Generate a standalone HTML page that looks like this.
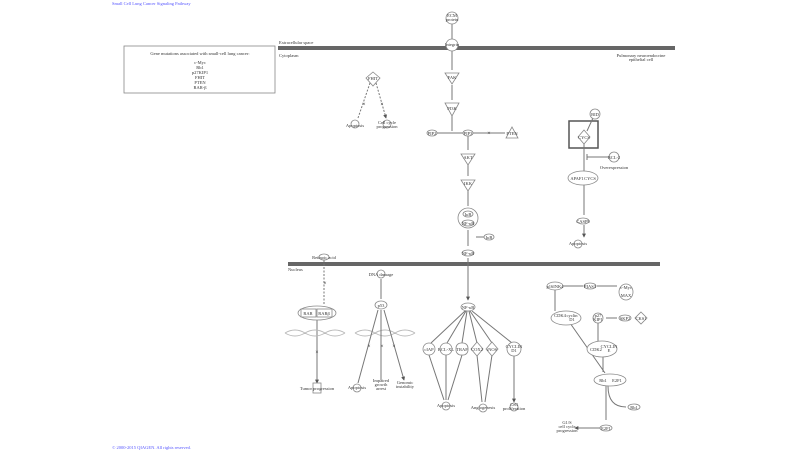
<!DOCTYPE html>
<html><head><meta charset="utf-8"><style>
html,body{margin:0;padding:0;background:#fff}
svg{display:block}
text{font-family:"Liberation Serif",serif;fill:#333;font-size:4.5px;text-anchor:middle}
.l{text-anchor:start}
.n{fill:#fff;stroke:#888;stroke-width:.8}
.e{stroke:#777;stroke-width:1;fill:none}
.d{stroke:#777;stroke-width:1;fill:none;stroke-dasharray:2 1.5}
</style></head><body>
<svg width="800" height="450" viewBox="0 0 800 450" xmlns="http://www.w3.org/2000/svg">
<defs><marker id="a" viewBox="0 0 6 6" refX="5" refY="3" markerWidth="4" markerHeight="4" orient="auto"><path d="M0,0L6,3L0,6z" fill="#555"/></marker></defs>
<text x="112" y="5" class="l" style="fill:#55f">Small Cell Lung Cancer Signaling Pathway</text>
<text x="112" y="449" class="l" style="fill:#55f">© 2000-2015 QIAGEN. All rights reserved.</text>
<rect x="124" y="46" width="151" height="47" fill="#fff" stroke="#888" stroke-width=".8"/>
<text x="200" y="55">Gene mutations associated with small-cell lung cancer:</text>
<text x="200" y="64">c-Myc</text><text x="200" y="69">Rb1</text><text x="200" y="74">p27KIP1</text><text x="200" y="79">FHIT</text><text x="200" y="84">PTEN</text><text x="200" y="89">RAR-β</text>
<rect x="278" y="46" width="397" height="4" fill="#666"/>
<text x="279" y="44" class="l">Extracellular space</text><text x="279" y="57" class="l">Cytoplasm</text>
<text x="641" y="57">Pulmonary neuroendocrine</text><text x="641" y="61">epithelial cell</text>
<rect x="288" y="262" width="372" height="4" fill="#666"/>
<text x="288" y="271" class="l">Nucleus</text>
<path class="e" d="M452,23V40M452,51V70M452,85V100M452,116V131M437,133H463M468,136V150M468,163V176M468,190V206M468,230V246M468,258V300" marker-end="url(#a)"/>
<path class="e" d="M473,133H505M476,237H484"/>
<circle class="n" cx="452" cy="18" r="6"/><text x="452" y="17">ECM</text><text x="452" y="21">protein</text>
<ellipse class="n" cx="452" cy="45" rx="6" ry="6"/><text x="452" y="46">Integrin</text>
<path class="n" d="M445,73H459L452,84z"/><text x="452" y="79">FAK</text>
<path class="n" d="M445,103H459L452,116z"/><text x="452" y="110">PI3K</text>
<ellipse class="n" cx="432" cy="133" rx="5" ry="3"/><text x="432" y="135">PIP2</text>
<ellipse class="n" cx="468" cy="133" rx="5" ry="3"/><text x="468" y="135">PIP3</text>
<text x="489" y="135" style="font-size:6px">×</text>
<path class="n" d="M506,138H518L512,127z"/><text x="512" y="135">PTEN</text>
<path class="n" d="M461,154H475L468,165z"/><text x="468" y="159">AKT</text>
<path class="n" d="M461,180H475L468,191z"/><text x="468" y="185">IKK</text>
<circle class="n" cx="468" cy="218" r="10"/><ellipse class="n" cx="468" cy="214" rx="5" ry="3"/><ellipse class="n" cx="468" cy="223" rx="6" ry="3"/>
<text x="468" y="216">IκB</text><text x="468" y="225">NF-κB</text>
<ellipse class="n" cx="489" cy="237" rx="5" ry="3"/><text x="489" y="239">IκB</text>
<ellipse class="n" cx="468" cy="253" rx="6" ry="3"/><text x="468" y="255">NF-κB</text>
<path class="d" d="M370,83L358,118M376,83L386,118" marker-end="url(#a)"/>
<path class="n" d="M373,72L380,78L373,86L366,78z"/><text x="373" y="80">FHIT</text>
<text x="364" y="106" style="font-size:6px">×</text><text x="382" y="106" style="font-size:6px">×</text>
<circle class="n" cx="355" cy="124" r="4"/><text x="355" y="127">Apoptosis</text>
<circle class="n" cx="387" cy="124" r="4"/><text x="387" y="124">Cell cycle</text><text x="387" y="128">progression</text>
<rect x="569" y="121" width="29" height="27" fill="none" stroke="#555" stroke-width="1.5"/>
<path class="e" d="M593,118L587,131M584,144V172M584,184V215M584,225V237" marker-end="url(#a)"/>
<path class="e" d="M587,157H608M587,154V160"/>
<circle class="n" cx="595" cy="114" r="5"/><text x="595" y="116">BID</text>
<path class="n" d="M584,130L590,137L584,144L578,137z"/><text x="584" y="139">CYCS</text>
<circle class="n" cx="614" cy="157" r="5"/><text x="614" y="159">BCL-2</text><text x="614" y="169">Overexpression</text>
<ellipse class="n" cx="583" cy="178" rx="15" ry="7"/><text x="577" y="180">APAF1</text><text x="590" y="180">CYCS</text>
<ellipse class="n" cx="583" cy="221" rx="6" ry="3"/><text x="583" y="223">CASP9</text>
<circle class="n" cx="578" cy="244" r="4"/><text x="578" y="245">Apoptosis</text>
<path class="d" d="M324,260V305"/><path class="e" d="M317,320V383" marker-end="url(#a)"/>
<text x="325" y="285" style="font-size:6px">×</text><text x="317" y="354" style="font-size:6px">×</text>
<ellipse class="n" cx="324" cy="257" rx="5" ry="3"/><text x="324" y="259">Retinoic acid</text>
<ellipse class="n" cx="317" cy="313" rx="19" ry="7"/><rect class="n" x="301" y="309" width="15" height="8"/><rect class="n" x="317" y="309" width="15" height="8"/>
<text x="308" y="315">RAR</text><text x="324" y="315">RARβ</text>
<path class="e" d="M285,333q10,-6 20,0t20,0t20,0M285,333q10,6 20,0t20,0t20,0M355,333q10,-6 20,0t20,0t20,0M355,333q10,6 20,0t20,0t20,0" style="stroke:#bbb"/>
<rect class="n" x="313" y="383" width="8" height="10"/><text x="317" y="390">Tumor progression</text>
<path class="e" d="M381,279V299M378,310L358,383M381,310V380M384,310L404,380" marker-end="url(#a)"/>
<text x="369" y="348" style="font-size:6px">×</text><text x="382" y="348" style="font-size:6px">×</text><text x="394" y="348" style="font-size:6px">×</text>
<circle class="n" cx="381" cy="274" r="4"/><text x="381" y="276">DNA damage</text>
<ellipse class="n" cx="381" cy="305" rx="6" ry="4"/><text x="381" y="307">p53</text>
<circle class="n" cx="357" cy="388" r="4"/><text x="357" y="389">Apoptosis</text>
<text x="381" y="382">Impaired</text><text x="381" y="386">growth</text><text x="381" y="390">arrest</text>
<text x="405" y="384">Genomic</text><text x="405" y="388">instability</text>
<path class="e" d="M465,311L431,343M466,311L447,343M467,311L462,343M469,311L477,343M470,311L492,343M472,311L512,343M429,355L444,400M446,355L446,400M462,355L448,400M477,355L482,402M492,355L485,402M514,355V402" marker-end="url(#a)"/>
<ellipse class="n" cx="468" cy="307" rx="7" ry="4"/><text x="468" y="309">NF-κB</text>
<circle class="n" cx="429" cy="349" r="6"/><text x="429" y="351">cIAP</text>
<circle class="n" cx="446" cy="349" r="6"/><text x="446" y="351">BCL-XL</text>
<rect class="n" x="456" y="343" width="12" height="12" rx="5"/><text x="462" y="351">TRAF</text>
<path class="n" d="M477,342L483,349L477,356L471,349z"/><text x="477" y="351">COX2</text>
<path class="n" d="M492,342L498,349L492,356L486,349z"/><text x="492" y="351">iNOS</text>
<circle class="n" cx="514" cy="349" r="7"/><text x="514" y="348">CYCLIN</text><text x="514" y="352">D1</text>
<circle class="n" cx="446" cy="406" r="4"/><text x="446" y="407">Apoptosis</text>
<circle class="n" cx="483" cy="408" r="4"/><text x="483" y="409">Angiogenesis</text>
<circle class="n" cx="514" cy="407" r="4"/><text x="514" y="406">Cell</text><text x="514" y="410">proliferation</text>
<path class="e" d="M562,286H583M597,286H617M555,290V311M606,318H617M598,323V342M570,323L605,373M603,355V372M608,386Q608,407 626,407M606,386V420M600,428H575" marker-end="url(#a)"/>
<ellipse class="n" cx="555" cy="286" rx="8" ry="4"/><text x="555" y="288">p16INK4</text>
<ellipse class="n" cx="590" cy="286" rx="6" ry="3"/><text x="590" y="288">PIAS3</text>
<ellipse class="n" cx="626" cy="292" rx="7" ry="8"/><text x="626" y="289">c-Myc</text><text x="626" y="297">MAX</text>
<ellipse class="n" cx="566" cy="318" rx="15" ry="7"/><text x="560" y="317">CDK4</text><text x="572" y="317">cyclin</text><text x="572" y="321">D1</text>
<ellipse class="n" cx="598" cy="318" rx="5" ry="5"/><text x="598" y="317">p27</text><text x="598" y="321">KIP1</text>
<ellipse class="n" cx="625" cy="318" rx="6" ry="3"/><text x="625" y="320">SKP2</text>
<path class="n" d="M641,312L647,318L641,324L635,318z"/><text x="641" y="320">CKS1</text>
<ellipse class="n" cx="602" cy="349" rx="15" ry="8"/><text x="596" y="351">CDK2</text><text x="609" y="348">CYCLIN</text><text x="609" y="352">E</text>
<ellipse class="n" cx="610" cy="380" rx="16" ry="6"/><text x="603" y="382">Rb1</text><text x="617" y="382">E2F1</text>
<ellipse class="n" cx="634" cy="407" rx="6" ry="3"/><text x="634" y="409">Rb1</text>
<ellipse class="n" cx="606" cy="428" rx="6" ry="3"/><text x="606" y="430">E2F1</text>
<text x="567" y="424">G1/S</text><text x="567" y="428">cell cycle</text><text x="567" y="432">progression</text>
</svg>
</body></html>
